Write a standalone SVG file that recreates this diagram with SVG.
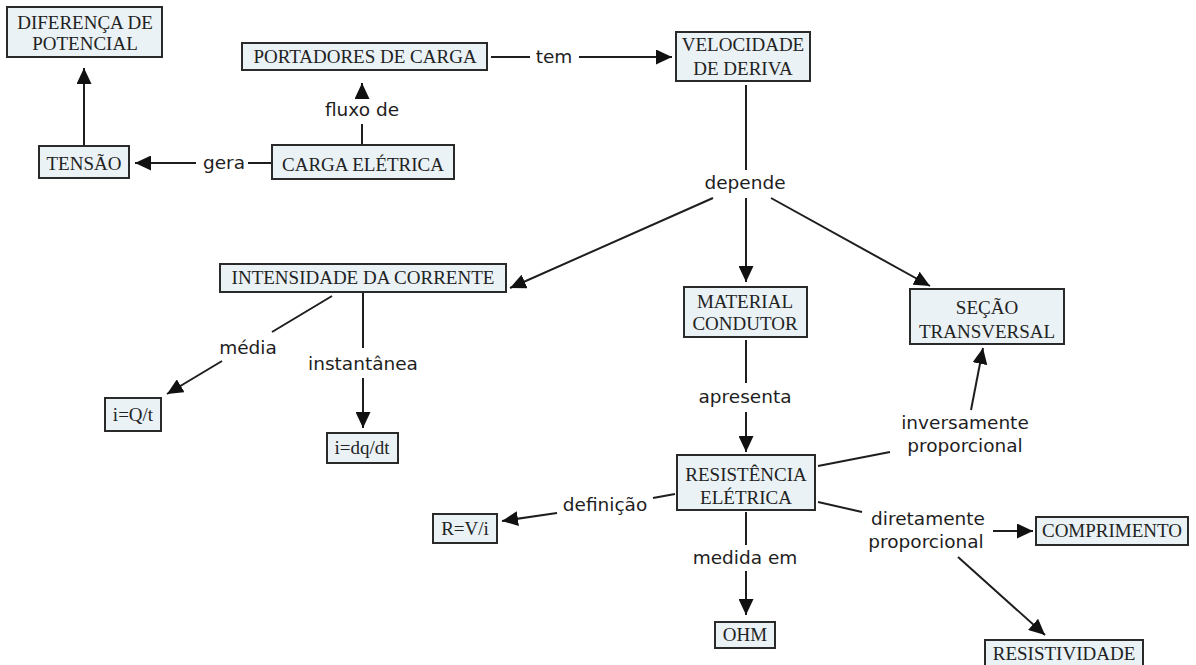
<svg xmlns="http://www.w3.org/2000/svg" width="1196" height="665" viewBox="0 0 1196 665">
<style>
.box{fill:#eaf2f6;stroke:#2a2a2a;stroke-width:2}
.nt{font-family:"Liberation Serif","Times New Roman",serif;font-size:19px;fill:#222;text-anchor:middle}
.lb{font-family:"DejaVu Sans",Verdana,sans-serif;font-size:18.5px;fill:#1e1e1e;text-anchor:middle}
.ln{stroke:#1e1e1e;stroke-width:2;fill:none}
.ar{stroke:#1e1e1e;stroke-width:2;fill:none;marker-end:url(#ah)}
</style>
<defs>
<marker id="ah" markerUnits="userSpaceOnUse" markerWidth="17" markerHeight="15" refX="16" refY="7.5" orient="auto">
<path d="M0,0 L16,7.5 L0,15 z" fill="#111"/>
</marker>
</defs>
<rect width="1196" height="665" fill="#fff"/>
<g id="connectors">
<path class="ar" d="M84,146 L84,68"/>
<path class="ln" d="M272,163 L248,163"/>
<path class="ar" d="M196,163 L135,163"/>
<path class="ln" d="M362,145 L362,124"/>
<path class="ar" d="M362,97 L362,83"/>
<path class="ln" d="M491,57 L530,57"/>
<path class="ar" d="M579,57 L672,57"/>
<path class="ln" d="M746,85 L746,170"/>
<path class="ar" d="M713,198 L510,288"/>
<path class="ar" d="M746,198 L746,282"/>
<path class="ar" d="M771,198 L930,286"/>
<path class="ln" d="M332,296 L272,332"/>
<path class="ar" d="M222,361 L167,394"/>
<path class="ln" d="M363,293 L363,348"/>
<path class="ar" d="M363,378 L363,428"/>
<path class="ln" d="M746,340 L746,383"/>
<path class="ar" d="M746,412 L746,452"/>
<path class="ln" d="M818,466 L890,452"/>
<path class="ar" d="M971,410 L983,348"/>
<path class="ln" d="M675,494 L653,498"/>
<path class="ar" d="M557,513 L502,521"/>
<path class="ln" d="M746,512 L746,545"/>
<path class="ar" d="M746,571 L746,615"/>
<path class="ln" d="M818,502 L862,512"/>
<path class="ar" d="M993,531 L1033,531"/>
<path class="ar" d="M958,557 L1045,635"/>
<text class="lb" x="224" y="169">gera</text>
<text class="lb" x="362" y="116">fluxo de</text>
<text class="lb" x="554" y="63">tem</text>
<text class="lb" x="745" y="189">depende</text>
<text class="lb" x="248" y="354">média</text>
<text class="lb" x="363" y="370">instantânea</text>
<text class="lb" x="745" y="403">apresenta</text>
<text class="lb" x="965" y="429">inversamente</text>
<text class="lb" x="965" y="452">proporcional</text>
<text class="lb" x="605" y="511">definição</text>
<text class="lb" x="745" y="564">medida em</text>
<text class="lb" x="928" y="525">diretamente</text>
<text class="lb" x="926" y="548">proporcional</text>
</g>
<g id="n-diferenca"><rect class="box" x="7" y="7" width="155" height="50"/><text class="nt" x="85" y="29">DIFERENÇA DE</text><text class="nt" x="85" y="50">POTENCIAL</text></g>
<g id="n-portadores"><rect class="box" x="242" y="43" width="245" height="27"/><text class="nt" x="365" y="63">PORTADORES DE CARGA</text></g>
<g id="n-velocidade"><rect class="box" x="676" y="32" width="134" height="49"/><text class="nt" x="743" y="51">VELOCIDADE</text><text class="nt" x="743" y="75">DE DERIVA</text></g>
<g id="n-tensao"><rect class="box" x="39" y="146" width="90" height="32"/><text class="nt" x="84" y="170">TENSÃO</text></g>
<g id="n-carga"><rect class="box" x="272" y="145" width="182" height="34"/><text class="nt" x="363" y="171">CARGA ELÉTRICA</text></g>
<g id="n-intensidade"><rect class="box" x="220" y="264" width="286" height="28"/><text class="nt" x="363" y="284">INTENSIDADE DA CORRENTE</text></g>
<g id="n-material"><rect class="box" x="684" y="287" width="123" height="50"/><text class="nt" x="745" y="308">MATERIAL</text><text class="nt" x="745" y="330">CONDUTOR</text></g>
<g id="n-secao"><rect class="box" x="910" y="289" width="154" height="55"/><text class="nt" x="987" y="314">SEÇÃO</text><text class="nt" x="987" y="338">TRANSVERSAL</text></g>
<g id="n-iqt"><rect class="box" x="105" y="398" width="56" height="33"/><text class="nt" x="133" y="421">i=Q/t</text></g>
<g id="n-idqdt"><rect class="box" x="327" y="433" width="71" height="30"/><text class="nt" x="362" y="454">i=dq/dt</text></g>
<g id="n-resistencia"><rect class="box" x="677" y="455" width="138" height="55"/><text class="nt" x="746" y="481">RESISTÊNCIA</text><text class="nt" x="746" y="504">ELÉTRICA</text></g>
<g id="n-rvi"><rect class="box" x="433" y="514" width="64" height="29"/><text class="nt" x="465" y="535">R=V/i</text></g>
<g id="n-comprimento"><rect class="box" x="1036" y="517" width="152" height="28"/><text class="nt" x="1112" y="537">COMPRIMENTO</text></g>
<g id="n-ohm"><rect class="box" x="715" y="622" width="60" height="26"/><text class="nt" x="745" y="641">OHM</text></g>
<g id="n-resistividade"><rect class="box" x="985" y="640" width="158" height="30"/><text class="nt" x="1064" y="660">RESISTIVIDADE</text></g>
</svg>
